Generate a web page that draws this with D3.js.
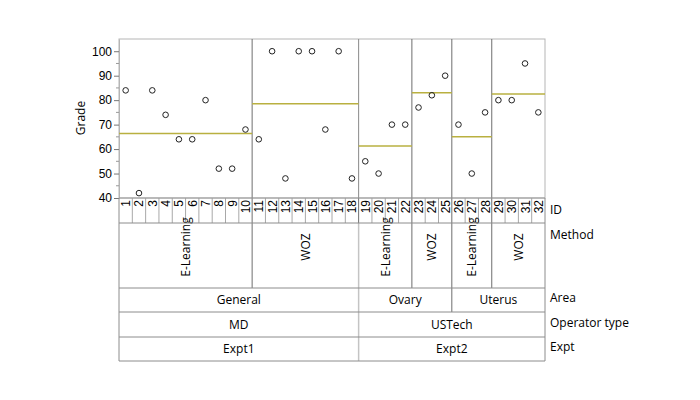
<!DOCTYPE html>
<html>
<head>
<meta charset="utf-8">
<script src="https://cdn.jsdelivr.net/npm/d3@7"></script>
<style>
body { margin: 0; background: #fff; }
svg { display: block; }
</style>
</head>
<body>
<div id="chart"></div>
<script>
// data
let ids = [1,2,3,4,5,6,7,8,9,10,11,12,13,14,15,16,17,18,19,20,21,22,23,24,25,26,27,28,29,30,31,32];
let grades = [84,42,84,74,64,64,80,52,52,68, 64,100,48,100,100,68,100,48, 55,50,70,70, 77,82,90, 70,50,75, 80,80,95,75];
let methods = ["E-Learning","E-Learning","E-Learning","E-Learning","E-Learning","E-Learning","E-Learning","E-Learning","E-Learning","E-Learning",
    "WOZ","WOZ","WOZ","WOZ","WOZ","WOZ","WOZ","WOZ",
    "E-Learning","E-Learning","E-Learning","E-Learning","WOZ","WOZ","WOZ",
    "E-Learning","E-Learning","E-Learning","WOZ","WOZ","WOZ","WOZ"];
let areas = ids.map(i => i <= 18 ? "General" : (i <= 25 ? "Ovary" : "Uterus"));
let operatorTypes = ids.map(i => i <= 18 ? "MD" : "USTech");
let expts = ids.map(i => i <= 18 ? "Expt1" : "Expt2");
let yTicks = [40,50,60,70,80,90,100];
let rowNames = ["ID","Method","Area","Operator type","Expt"];

let data = ids.map((id, i) => ({
    id: id, grade: grades[i], method: methods[i], area: areas[i],
    op: operatorTypes[i], expt: expts[i]
}));

let W = 700, H = 400;
let pLeft = 119, pRight = 545, pTop = 39, pBottom = 198;
let rowY = [198, 223, 288, 312, 337, 361];
let darkLine = "#6e6e6e", lightLine = "#c4c4c4";
let tableFont = "'Open Sans', 'Noto Sans', sans-serif";

let svg = d3.select("#chart").append("svg")
    .attr("width", W).attr("height", H);

let x = d3.scaleBand().domain(ids).range([pLeft, pRight]);
let y = d3.scaleLinear().domain([40, 105]).range([pBottom, pTop]);

// contiguous runs of a key
let runs = function(keyFn, labelFn){
    let out = [];
    data.forEach((d, i) => {
        let k = keyFn(d);
        if (out.length && out[out.length-1].key == k) {
            out[out.length-1].end = i;
        } else {
            out.push({key: k, label: labelFn(d), start: i, end: i});
        }
    });
    return out;
}

let exptKey = d => d.expt;
let areaKey = d => d.expt + d.op + d.area;
let methodKey = d => areaKey(d) + d.method;

let exptRuns = runs(exptKey, d => d.expt);
let opRuns = runs(d => d.expt + d.op, d => d.op);
let areaRuns = runs(areaKey, d => d.area);
let methodRuns = runs(methodKey, d => d.method);

let xs = i => x(ids[i]);
let xe = i => x(ids[i]) + x.bandwidth();
let isExptEdge = i => exptRuns.some(r => r.start == i);

// plot frame
svg.append("rect")
    .attr("x", pLeft).attr("y", pTop)
    .attr("width", pRight - pLeft).attr("height", pBottom - pTop)
    .attr("fill", "none").attr("stroke", "#b5b5b5").attr("stroke-width", 1);

// group dividers in the plot
methodRuns.slice(1).forEach(r => {
    svg.append("line")
        .attr("x1", xs(r.start)).attr("x2", xs(r.start))
        .attr("y1", pTop).attr("y2", pBottom)
        .attr("stroke", isExptEdge(r.start) ? "#8a8a8a" : darkLine)
        .attr("stroke-width", 1);
});

// y axis
let yAxis = svg.append("g")
    .attr("transform", "translate(" + pLeft + ",0)")
    .call(d3.axisLeft(y).tickValues(yTicks).tickSize(5).tickSizeOuter(0));
yAxis.select(".domain").attr("stroke", "#b5b5b5");
yAxis.selectAll(".tick line").attr("stroke", "#777");
yAxis.selectAll("text")
    .style("font-family", "'Liberation Sans', Arial, sans-serif")
    .style("font-size", "12px").attr("fill", "#000").attr("x", -7);

// minor ticks
svg.append("g").selectAll("line")
    .data(d3.range(45, 105, 10))
    .enter().append("line")
    .attr("x1", pLeft - 3).attr("x2", pLeft)
    .attr("y1", d => y(d)).attr("y2", d => y(d))
    .attr("stroke", "#999");

svg.append("text")
    .attr("transform", "translate(85," + 118 + ")rotate(-90)")
    .attr("text-anchor", "middle")
    .style("font-family", tableFont).style("font-size", "12px")
    .text("Grade");

// group means
methodRuns.forEach(r => {
    let m = d3.mean(data.slice(r.start, r.end + 1), d => d.grade);
    svg.append("line")
        .attr("x1", xs(r.start)).attr("x2", xe(r.end))
        .attr("y1", y(m)).attr("y2", y(m))
        .attr("stroke", "#b9b040").attr("stroke-width", 1.5);
});

// points
svg.append("g").selectAll("circle")
    .data(data)
    .enter().append("circle")
    .attr("cx", d => x(d.id) + x.bandwidth() / 2)
    .attr("cy", d => y(d.grade))
    .attr("r", 2.8)
    .attr("fill", "none").attr("stroke", "#222").attr("stroke-width", 1);

// table: ID row
let idRow = svg.append("g");
data.forEach((d, i) => {
    idRow.append("text")
        .attr("transform", "translate(" + (x(d.id) + x.bandwidth() / 2 + 4.5) + "," + (rowY[0] + 2) + ")rotate(-90)")
        .attr("text-anchor", "end")
        .style("font-family", "'Liberation Sans', Arial, sans-serif")
        .style("font-size", "12px")
        .text(d.id);
    if (i > 0) {
        idRow.append("line")
            .attr("x1", xs(i)).attr("x2", xs(i))
            .attr("y1", rowY[0]).attr("y2", rowY[1])
            .attr("stroke", methodRuns.some(r => r.start == i) ? darkLine : "#a8a8a8");
    }
});

// method labels
methodRuns.forEach(r => {
    svg.append("text")
        .attr("transform", "translate(" + ((xs(r.start) + xe(r.end)) / 2 + 4.5) + ",247)rotate(-90)")
        .attr("text-anchor", "middle")
        .style("font-family", tableFont).style("font-size", "12px")
        .text(r.label);
});

// spanning rows
let spanRows = [
    {runs: methodRuns, row: 1},
    {runs: areaRuns, row: 2},
    {runs: opRuns, row: 3},
    {runs: exptRuns, row: 4}
];
spanRows.forEach(s => {
    let y0 = rowY[s.row], y1 = rowY[s.row + 1];
    s.runs.slice(1).forEach(r => {
        svg.append("line")
            .attr("x1", xs(r.start)).attr("x2", xs(r.start))
            .attr("y1", y0).attr("y2", y1)
            .attr("stroke", isExptEdge(r.start) ? lightLine : darkLine)
            .attr("stroke-width", isExptEdge(r.start) ? 1.5 : 1);
    });
    if (s.row > 1) {
        s.runs.forEach(r => {
            svg.append("text")
                .attr("x", (xs(r.start) + xe(r.end)) / 2)
                .attr("y", (y0 + y1) / 2 + 4)
                .attr("text-anchor", "middle")
                .style("font-family", tableFont).style("font-size", "12px")
                .text(r.label);
        });
    }
});

// horizontal row lines and table sides
rowY.forEach((ry, i) => {
    svg.append("line")
        .attr("x1", pLeft).attr("x2", pRight)
        .attr("y1", ry).attr("y2", ry)
        .attr("stroke", i == 0 ? "#999" : "#8c8c8c");
});
[pLeft, pRight].forEach(lx => {
    svg.append("line")
        .attr("x1", lx).attr("x2", lx)
        .attr("y1", rowY[0]).attr("y2", rowY[5])
        .attr("stroke", "#8c8c8c");
});

// row names
let rowNameY = [214, 239, 302, 327, 351];
rowNames.forEach((n, i) => {
    svg.append("text")
        .attr("x", 550).attr("y", rowNameY[i])
        .style("font-family", tableFont).style("font-size", "12px")
        .text(n);
});
</script>
</body>
</html>
